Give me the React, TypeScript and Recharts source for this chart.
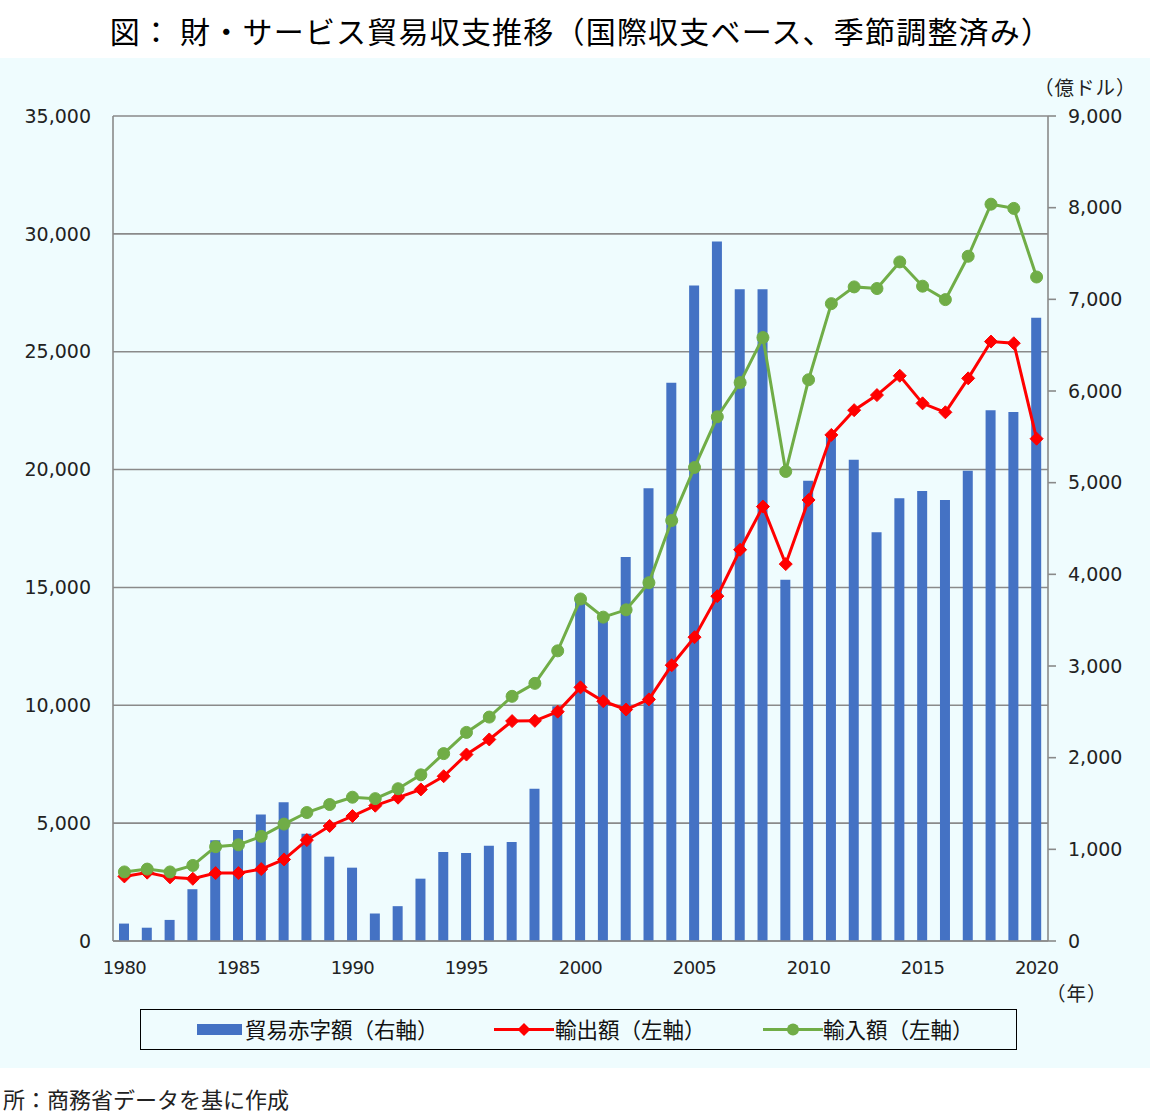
import React from 'react';
import { ComposedChart, Bar, Line, XAxis, YAxis, CartesianGrid, Legend } from 'recharts';

const years = [
  1980, 1981, 1982, 1983, 1984, 1985, 1986, 1987, 1988, 1989,
  1990, 1991, 1992, 1993, 1994, 1995, 1996, 1997, 1998, 1999,
  2000, 2001, 2002, 2003, 2004, 2005, 2006, 2007, 2008, 2009,
  2010, 2011, 2012, 2013, 2014, 2015, 2016, 2017, 2018, 2019, 2020,
];

// 貿易赤字額（右軸, 億ドル）
const deficitValues = [
  190, 145, 230, 565, 1100, 1210, 1380, 1515, 1170, 920,
  800, 300, 380, 680, 970, 960, 1040, 1080, 1660, 2560,
  3720, 3560, 4190, 4940, 6090, 7150, 7630, 7110, 7110, 3940,
  5020, 5500, 5250, 4460, 4830, 4910, 4810, 5130, 5790, 5770, 6800,
];

// 輸出額（左軸, 億ドル）
const exportValues = [
  2740, 2900, 2700, 2640, 2880, 2880, 3050, 3460, 4280, 4880,
  5300, 5740, 6080, 6430, 6990, 7910, 8550, 9330, 9340, 9730,
  10760, 10170, 9820, 10250, 11700, 12890, 14630, 16600, 18430, 15990,
  18710, 21470, 22520, 23160, 23980, 22810, 22430, 23870, 25430, 25360, 21310,
];

// 輸入額（左軸, 億ドル）
const importValues = [
  2930, 3050, 2930, 3205, 4000, 4080, 4440, 4960, 5450, 5790,
  6100, 6040, 6460, 7050, 7950, 8850, 9500, 10380, 10930, 12310,
  14510, 13740, 14050, 15200, 17840, 20090, 22240, 23690, 25600, 19920,
  23810, 27040, 27750, 27680, 28810, 27780, 27210, 29050, 31260, 31080, 28170,
];

const leftTicks = [0, 5000, 10000, 15000, 20000, 25000, 30000, 35000];
const rightTicks = [0, 1000, 2000, 3000, 4000, 5000, 6000, 7000, 8000, 9000];

const titleText = '図： 財・サービス貿易収支推移（国際収支ベース、季節調整済み）';
const sourceText = '所：商務省データを基に作成';
const rightUnit = '（億ドル）';
const xUnit = '（年）';
const seriesNames = ['貿易赤字額（右軸）', '輸出額（左軸）', '輸入額（左軸）'];

const data = years.map((y, i) => ({
  year: String(y),
  deficit: deficitValues[i],
  exports: exportValues[i],
  imports: importValues[i],
}));

const BLUE = '#4472C4';
const RED = '#FF0000';
const GREEN = '#70AD47';
const GRID = '#8a8a8a';
const BG = '#EFFCFE';
const JP = '"Noto Sans CJK JP", "Noto Sans", sans-serif';
const NUM = '"DejaVu Sans", "Liberation Sans", sans-serif';

const fmt = (v: number) => v.toLocaleString('en-US');

const renderDiamond = (props: any) => {
  const { cx, cy, index } = props;
  if (cx == null || cy == null) return <g key={`d-${index}`} />;
  const s = 6.5;
  return (
    <path
      key={`d-${index}`}
      d={`M${cx},${cy - s}L${cx + s},${cy}L${cx},${cy + s}L${cx - s},${cy}Z`}
      fill={RED}
      stroke={RED}
      strokeWidth={1}
    />
  );
};

const renderLegend = () => (
  <div
    style={{
      position: 'relative',
      width: 877,
      height: 41,
      border: '1.5px solid #000',
      boxSizing: 'border-box',
      fontFamily: JP,
      fontSize: 21.5,
      lineHeight: '30px',
      color: '#111',
      background: BG,
    }}
  >
    <svg width={877} height={41} style={{ position: 'absolute', left: 0, top: 0 }}>
      <rect x={56} y={14} width={45} height={11} fill={BLUE} />
      <line x1={353} y1={19.5} x2={413} y2={19.5} stroke={RED} strokeWidth={3} />
      <path d="M383,13L389.5,19.5L383,26L376.5,19.5Z" fill={RED} />
      <line x1={622} y1={19.5} x2={682} y2={19.5} stroke={GREEN} strokeWidth={3} />
      <circle cx={652} cy={19.5} r={6} fill={GREEN} />
    </svg>
    <span style={{ position: 'absolute', left: 104, top: 4, whiteSpace: 'nowrap' }}>{seriesNames[0]}</span>
    <span style={{ position: 'absolute', left: 414, top: 4, whiteSpace: 'nowrap' }}>{seriesNames[1]}</span>
    <span style={{ position: 'absolute', left: 682, top: 4, whiteSpace: 'nowrap' }}>{seriesNames[2]}</span>
  </div>
);

export default function App() {
  return (
    <div style={{ position: 'relative', width: 1159, height: 1113, background: '#fff', overflow: 'hidden' }}>
      <style>{'body{margin:0;}'}</style>
      <div style={{ position: 'absolute', left: 0, top: 58, width: 1150, height: 1010, background: BG }} />
      <div
        style={{
          position: 'absolute',
          left: 0,
          top: 12,
          width: 1162,
          textAlign: 'center',
          fontFamily: JP,
          fontSize: 30,
          letterSpacing: 1.2,
          lineHeight: '36px',
          color: '#000',
          whiteSpace: 'nowrap',
        }}
      >
        {titleText}
      </div>
      <div style={{ position: 'absolute', left: 0, top: 0 }}>
        <ComposedChart
          width={1159}
          height={1113}
          data={data}
          margin={{ top: 116, right: 0, bottom: 142, left: 0 }}
          barCategoryGap={0}
        >
          <CartesianGrid yAxisId="left" vertical={false} stroke={GRID} strokeWidth={1.6} />
          <XAxis
            dataKey="year"
            interval={4}
            height={30}
            tickLine={false}
            tickSize={8}
            tickMargin={12}
            axisLine={{ stroke: GRID, strokeWidth: 1.6 }}
            tick={{ fill: '#222', fontSize: 18, fontFamily: NUM, letterSpacing: -0.6 }}
          />
          <YAxis
            yAxisId="left"
            orientation="left"
            width={113}
            domain={[0, 35000]}
            ticks={leftTicks}
            tickFormatter={fmt}
            tickLine={false}
            tickSize={8}
            tickMargin={14}
            axisLine={{ stroke: GRID, strokeWidth: 1.6 }}
            tick={{ fill: '#222', fontSize: 19, fontFamily: NUM }}
          />
          <YAxis
            yAxisId="right"
            orientation="right"
            width={111}
            domain={[0, 9000]}
            ticks={rightTicks}
            tickFormatter={fmt}
            tickLine={{ stroke: GRID, strokeWidth: 1.6 }}
            tickSize={8}
            tickMargin={12}
            axisLine={{ stroke: GRID, strokeWidth: 1.6 }}
            tick={{ fill: '#222', fontSize: 19, fontFamily: NUM }}
          />
          <Bar
            yAxisId="right"
            dataKey="deficit"
            name={seriesNames[0]}
            fill={BLUE}
            barSize={10}
            isAnimationActive={false}
          />
          <Line
            yAxisId="left"
            dataKey="exports"
            name={seriesNames[1]}
            stroke={RED}
            strokeWidth={3}
            dot={renderDiamond}
            activeDot={false}
            isAnimationActive={false}
          />
          <Line
            yAxisId="left"
            dataKey="imports"
            name={seriesNames[2]}
            stroke={GREEN}
            strokeWidth={3}
            dot={{ r: 6, fill: GREEN, stroke: GREEN, strokeWidth: 1 }}
            activeDot={false}
            isAnimationActive={false}
          />
          <Legend
            layout="vertical"
            align="center"
            verticalAlign="middle"
            wrapperStyle={{ left: 140, top: 1009, width: 877, height: 41 }}
            content={renderLegend}
          />
        </ComposedChart>
      </div>
      <div style={{ position: 'absolute', left: 1034, top: 74, fontFamily: JP, fontSize: 19.5, lineHeight: '26px', color: '#222', whiteSpace: 'nowrap', letterSpacing: 1 }}>
        {rightUnit}
      </div>
      <div style={{ position: 'absolute', left: 1046, top: 980, fontFamily: JP, fontSize: 19.5, lineHeight: '26px', color: '#222', whiteSpace: 'nowrap', letterSpacing: 1 }}>
        {xUnit}
      </div>
      <div style={{ position: 'absolute', left: 3, top: 1086, fontFamily: JP, fontSize: 22, lineHeight: '24px', color: '#222', whiteSpace: 'nowrap' }}>
        {sourceText}
      </div>
    </div>
  );
}
